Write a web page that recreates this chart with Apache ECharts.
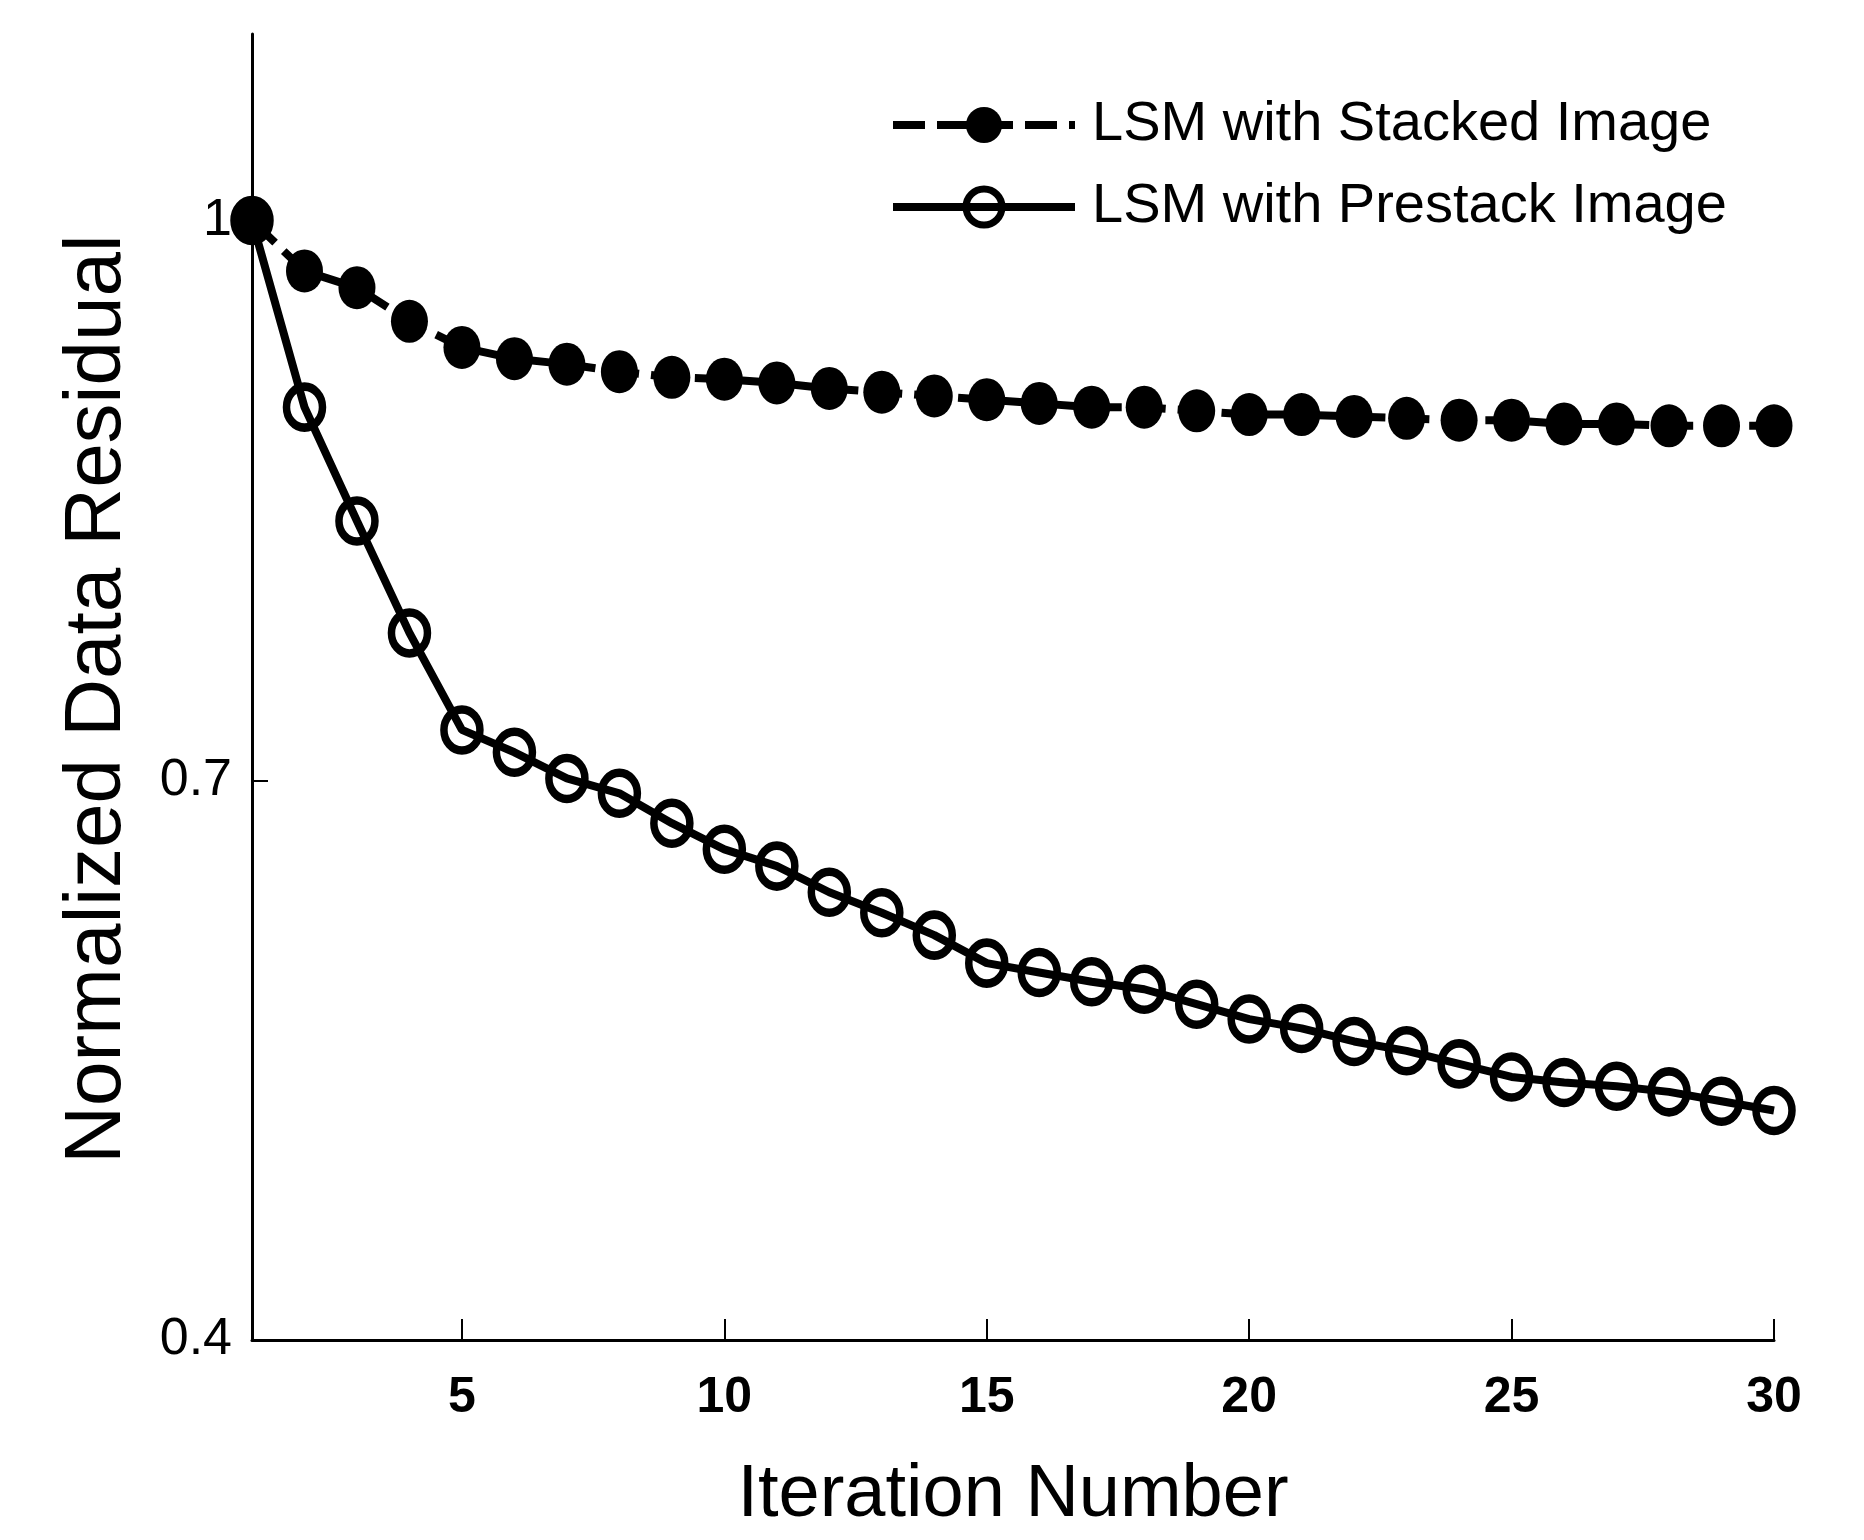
<!DOCTYPE html>
<html>
<head>
<meta charset="utf-8">
<script src="https://cdn.jsdelivr.net/npm/echarts@6/dist/echarts.min.js"></script>
<style>
html,body{margin:0;padding:0;background:#fff;}
#chart{width:1864px;height:1540px;}
</style>
</head>
<body>
<div id="chart"></div>
<script>
// ---- data ----
var iterations = [1,2,3,4,5,6,7,8,9,10,11,12,13,14,15,16,17,18,19,20,21,22,23,24,25,26,27,28,29,30];
var stackedResidual = [1.000,0.973,0.964,0.946,0.932,0.926,0.923,0.919,0.916,0.915,0.913,0.910,0.908,0.906,0.904,0.902,0.900,0.900,0.898,0.896,0.896,0.895,0.894,0.893,0.893,0.891,0.891,0.890,0.890,0.890];
var prestackResidual = [1.000,0.900,0.839,0.779,0.727,0.715,0.701,0.693,0.677,0.663,0.654,0.640,0.629,0.617,0.602,0.597,0.592,0.588,0.580,0.572,0.567,0.560,0.555,0.548,0.541,0.538,0.536,0.533,0.528,0.523];
var seriesNames = ['LSM with Stacked Image','LSM with Prestack Image'];
var xTicks = [5,10,15,20,25,30];
var yTicks = [0.4,0.7,1];
var xTitle = 'Iteration Number';
var yTitle = 'Normalized Data Residual';

function pairs(xs, ys){ return xs.map(function(x,i){ return [x, ys[i]]; }); }

var font = '"Liberation Sans",Arial,sans-serif';

var chart = echarts.init(document.getElementById('chart'), null, {renderer:'canvas'});
chart.setOption({
  backgroundColor:'#ffffff',
  animation:false,
  grid:{left:252,right:90,top:34,bottom:200,containLabel:false},
  legend:{
    orient:'vertical',
    left:884, top:92,
    itemWidth:182, itemHeight:45, itemGap:26,
    data:[
      {name:seriesNames[0], itemStyle:{borderWidth:0}},
      {name:seriesNames[1], itemStyle:{borderWidth:7, borderColor:'#000', color:'rgba(255,255,255,0)'}}
    ],
    lineStyle:{width:8},
    textStyle:{fontFamily:font,fontSize:56,color:'#000',padding:[0,0,0,12]}
  },
  xAxis:{
    type:'value', min:1, max:30,
    name:xTitle, nameLocation:'middle', nameGap:119,
    nameTextStyle:{fontFamily:font,fontSize:74,color:'#000'},
    axisLine:{show:true,onZero:false,lineStyle:{color:'#000',width:3}},
    axisTick:{show:true,inside:true,length:21,customValues:xTicks,lineStyle:{color:'#000',width:2}},
    axisLabel:{customValues:xTicks,fontFamily:font,fontSize:50,fontWeight:'bold',color:'#000',margin:33},
    splitLine:{show:false}
  },
  yAxis:{
    type:'value', min:0.4, max:1.1,
    name:yTitle, nameLocation:'middle', nameGap:114, nameRotate:90,
    nameTextStyle:{fontFamily:font,fontSize:80,color:'#000',padding:[0,24,0,0]},
    axisLine:{show:true,onZero:false,lineStyle:{color:'#000',width:3}},
    axisTick:{show:true,inside:true,length:16,customValues:yTicks,lineStyle:{color:'#000',width:2}},
    axisLabel:{customValues:yTicks,fontFamily:font,fontSize:52,color:'#000',margin:20},
    splitLine:{show:false}
  },
  series:[
    {
      name:seriesNames[1], type:'line', data:pairs(iterations, prestackResidual),
      symbol:'circle', symbolSize:[36,41], showAllSymbol:true,
      lineStyle:{color:'#000',width:8,type:'solid'},
      itemStyle:{color:'rgba(255,255,255,0)',borderColor:'#000',borderWidth:8},
      z:2
    },
    {
      name:seriesNames[0], type:'line', data:pairs(iterations, stackedResidual),
      symbol:'circle', symbolSize:[37,43], showAllSymbol:true,
      lineStyle:{color:'#000',width:8,type:[32,12]},
      itemStyle:{color:'#000',borderWidth:0},
      z:3
    }
  ]
});
</script>
</body>
</html>
